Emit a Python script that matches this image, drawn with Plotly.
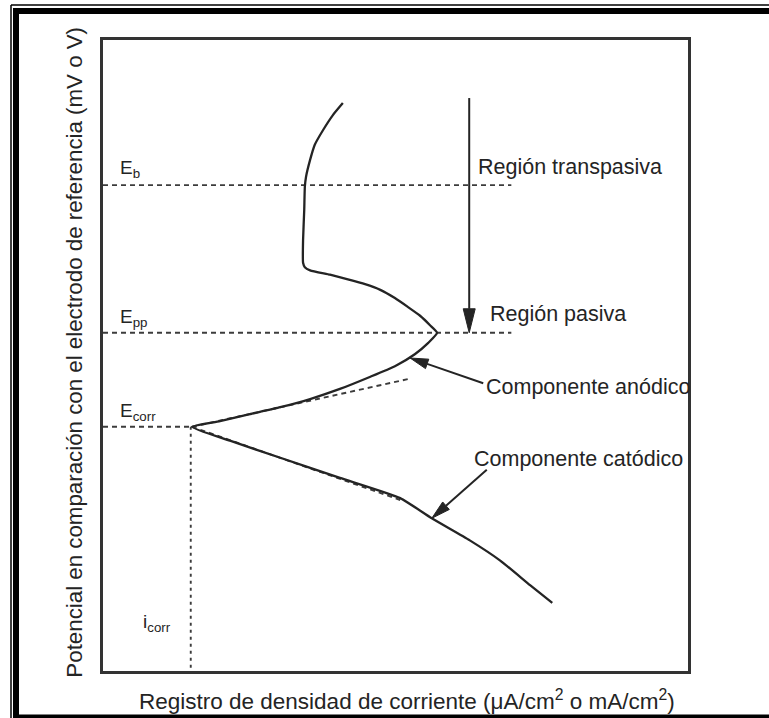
import math
import plotly.graph_objects as go

# ---- data (arbitrary units: log current density 0-100, potential 0-100) ----
curve_logi = [41.0, 39.3, 37.6, 36.2, 35.4, 34.7, 34.5, 34.4, 34.2, 34.2, 34.5, 35.4,
              38.8, 41.7, 44.8, 47.4, 49.9, 52.1, 54.2, 55.9, 57.1,
              55.6, 53.3, 49.9, 45.6, 40.5, 35.4, 30.3, 25.1, 20.0, 15.2,
              21.7, 30.3, 40.5, 50.8, 56.2, 62.7, 67.9, 73.0, 76.8]
curve_E = [90.0, 88.1, 85.7, 83.4, 81.0, 78.3, 76.7, 73.1, 68.3, 64.7, 64.0, 63.5,
           62.8, 62.1, 61.3, 60.4, 59.1, 57.7, 56.3, 54.8, 53.6,
           52.0, 50.2, 48.3, 46.6, 44.7, 43.1, 41.8, 40.7, 39.6, 38.7,
           36.5, 33.8, 30.6, 27.4, 24.2, 20.7, 17.5, 13.6, 10.8]

E_b = 77.0
E_pp = 53.6
E_corr = 38.7
i_corr = 15.0
level_line_end = 69.8

tafel_anodic_logi = [15.2, 52.3]
tafel_anodic_E = [38.7, 46.3]
tafel_cathodic_logi = [15.2, 50.8]
tafel_cathodic_E = [38.7, 27.1]

transpassive_arrow_tail = (62.6, 90.8)
transpassive_arrow_tip = (62.6, 53.6)
anodic_arrow_tail = (65.0, 45.6)
anodic_arrow_tip = (52.5, 49.6)
cathodic_arrow_tail = (65.6, 31.9)
cathodic_arrow_tip = (56.2, 24.2)

FONT = "Liberation Sans, Arial, sans-serif"
INK = "#242424"
DASH_COL = "#3c3c3c"

# plot area in pixels
L, T, W, H = 103, 40, 585, 631
XR = [0, 100]
YR = [0, 100]
sx = W / (XR[1] - XR[0])
sy = H / (YR[1] - YR[0])

fig = go.Figure()

dash_style = dict(color=DASH_COL, width=1.9, dash="5px,4px")
for lvl, x_end in [(E_b, level_line_end), (E_pp, level_line_end), (E_corr, i_corr)]:
    fig.add_trace(go.Scatter(x=[0, x_end], y=[lvl, lvl], mode="lines",
                             line=dash_style, hoverinfo="skip", showlegend=False))
fig.add_trace(go.Scatter(x=[i_corr, i_corr], y=[E_corr, 0], mode="lines",
                         line=dict(color=DASH_COL, width=1.9, dash="3px,4px"),
                         hoverinfo="skip", showlegend=False))
fig.add_trace(go.Scatter(x=tafel_anodic_logi, y=tafel_anodic_E, mode="lines",
                         line=dash_style, hoverinfo="skip", showlegend=False))
fig.add_trace(go.Scatter(x=tafel_cathodic_logi, y=tafel_cathodic_E, mode="lines",
                         line=dash_style, hoverinfo="skip", showlegend=False))
fig.add_trace(go.Scatter(x=curve_logi, y=curve_E, mode="lines",
                         line=dict(color=INK, width=2.3, shape="spline", smoothing=0.5),
                         hoverinfo="skip", showlegend=False))


def arrow(tail, tip, head_len, head_half):
    # direction in pixel space
    dxp = (tip[0] - tail[0]) * sx
    dyp = (tip[1] - tail[1]) * sy
    n = math.hypot(dxp, dyp)
    ux, uy = dxp / n, dyp / n
    bx = tip[0] - ux * head_len / sx
    by = tip[1] - uy * head_len / sy
    # shaft
    fig.add_trace(go.Scatter(x=[tail[0], bx], y=[tail[1], by], mode="lines",
                             line=dict(color=INK, width=2), hoverinfo="skip", showlegend=False))
    # head
    px_, py_ = -uy, ux
    hx = [tip[0], bx + px_ * head_half / sx, bx - px_ * head_half / sx, tip[0]]
    hy = [tip[1], by + py_ * head_half / sy, by - py_ * head_half / sy, tip[1]]
    fig.add_trace(go.Scatter(x=hx, y=hy, mode="lines", fill="toself", fillcolor=INK,
                             line=dict(color=INK, width=1), hoverinfo="skip", showlegend=False))


arrow(transpassive_arrow_tail, transpassive_arrow_tip, 24, 6)
arrow(anodic_arrow_tail, anodic_arrow_tip, 18, 5)
arrow(cathodic_arrow_tail, cathodic_arrow_tip, 19, 5)

annotations = []


def label(x, y, text, size=21.5):
    annotations.append(dict(x=x, y=y, xref="x", yref="y", text=text, showarrow=False,
                            xanchor="left", yanchor="middle",
                            font=dict(family=FONT, size=size, color=INK)))


label(63.7, 79.9, "Región transpasiva")
label(65.8, 56.6, "Región pasiva")
label(65.1, 45.0, "Componente anódico")
label(63.0, 33.6, "Componente catódico")
label(2.6, 79.6, "E<sub>b</sub>", 19)
label(2.6, 56.0, "E<sub>pp</sub>", 19)
label(2.6, 41.0, "E<sub>corr</sub>", 19)
label(6.5, 7.6, "i<sub>corr</sub>", 19)

annotations.append(dict(x=-0.048, y=0.506, xref="paper", yref="paper", textangle=-90,
                        text="Potencial en comparación con el electrodo de referencia (mV o V)",
                        showarrow=False, xanchor="center", yanchor="middle",
                        font=dict(family=FONT, size=22.3, color=INK)))
annotations.append(dict(x=0.52, y=-0.046, xref="paper", yref="paper",
                        text="Registro de densidad de corriente (μA/cm<sup>2</sup> o mA/cm<sup>2</sup>)",
                        showarrow=False, xanchor="center", yanchor="middle",
                        font=dict(family=FONT, size=22.5, color=INK)))


def ppx(xp):
    return (xp - L) / W


def ppy(yp):
    return (T + H - yp) / H


shapes = [
    dict(type="line", xref="paper", yref="paper", x0=ppx(16), x1=ppx(16), y0=ppy(11), y1=ppy(720),
         line=dict(color="black", width=6)),
    dict(type="line", xref="paper", yref="paper", x0=ppx(13), x1=ppx(772), y0=ppy(11), y1=ppy(11),
         line=dict(color="black", width=6)),
    dict(type="line", xref="paper", yref="paper", x0=ppx(13), x1=ppx(772), y0=ppy(716.5), y1=ppy(716.5),
         line=dict(color="black", width=4)),
    dict(type="line", xref="paper", yref="paper", x0=ppx(11), x1=ppx(11), y0=ppy(5), y1=ppy(720),
         line=dict(color="black", width=1.5)),
    dict(type="line", xref="paper", yref="paper", x0=ppx(11), x1=ppx(772), y0=ppy(5), y1=ppy(5),
         line=dict(color="black", width=1.5)),
]

axis_common = dict(showgrid=False, zeroline=False, showticklabels=False,
                   ticks="", showline=True, mirror=True, linecolor="#333333", linewidth=2.5,
                   fixedrange=True)

fig.update_layout(
    width=769, height=718,
    margin=dict(l=L, r=769 - L - W, t=T, b=718 - T - H),
    paper_bgcolor="white", plot_bgcolor="white",
    xaxis=dict(range=XR, **axis_common), yaxis=dict(range=YR, **axis_common),
    annotations=annotations, shapes=shapes,
    showlegend=False,
)

fig.write_html("out.html")
